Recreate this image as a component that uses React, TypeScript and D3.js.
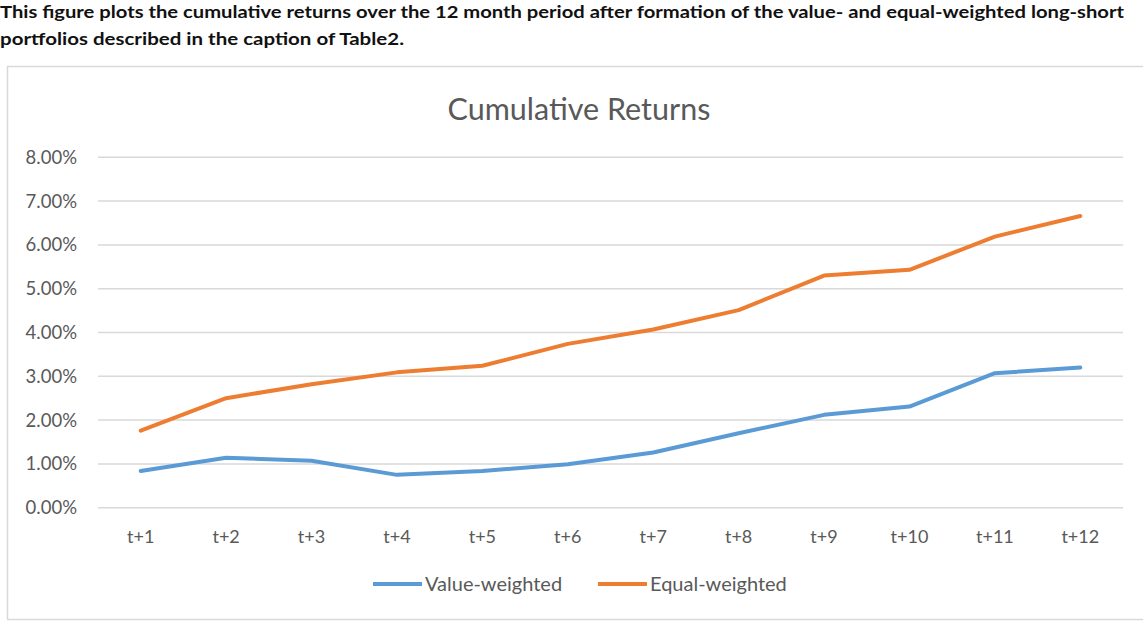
import React, { useEffect, useRef } from "react";
import * as d3 from "d3";

const caption = [
  "This figure plots the cumulative returns over the 12 month period after formation of the value- and equal-weighted long-short",
  "portfolios described in the caption of Table2.",
];
const chartTitle = "Cumulative Returns";
const categories = ["t+1", "t+2", "t+3", "t+4", "t+5", "t+6", "t+7", "t+8", "t+9", "t+10", "t+11", "t+12"];
const valueWeighted = [0.84, 1.14, 1.07, 0.75, 0.84, 0.99, 1.26, 1.7, 2.12, 2.31, 3.07, 3.2];
const equalWeighted = [1.76, 2.5, 2.82, 3.09, 3.24, 3.74, 4.07, 4.51, 5.3, 5.43, 6.19, 6.66];
const yTicks = [0, 1, 2, 3, 4, 5, 6, 7, 8];
const seriesNames = ["Value-weighted", "Equal-weighted"];
const seriesColors = ["#5B9BD5", "#ED7D31"];

const App: React.FC = () => {
  const svgRef = useRef<SVGSVGElement>(null);

  useEffect(() => {
    if (!svgRef.current) return;
    const svg = d3.select(svgRef.current);
    svg.selectAll("*").remove();

    const font = "Lato, 'Open Sans', sans-serif";
    const textColor = "#595959";

    // caption above the chart box
    svg
      .selectAll("text.caption")
      .data(caption)
      .enter()
      .append("text")
      .attr("class", "caption")
      .attr("x", 0)
      .attr("y", (_, i) => 18 + i * 27)
      .attr("textLength", (_, i) => (i === 0 ? 1124 : 404))
      .attr("lengthAdjust", "spacingAndGlyphs")
      .style("font-family", font)
      .style("font-weight", "bold")
      .style("font-size", "17px")
      .style("fill", "#111")
      .text((d) => d);

    // chart box
    svg
      .append("rect")
      .attr("x", 7.5)
      .attr("y", 66.5)
      .attr("width", 1160)
      .attr("height", 553)
      .attr("fill", "#fff")
      .attr("stroke", "#d9d9d9")
      .attr("stroke-width", 1.5);

    svg
      .append("text")
      .attr("x", 579)
      .attr("y", 120)
      .attr("text-anchor", "middle")
      .style("font-family", font)
      .style("font-size", "30.5px")
      .style("fill", textColor)
      .text(chartTitle);

    const x = d3.scaleBand().domain(categories).range([98, 1123]);
    const y = d3.scaleLinear().domain([0, 8]).range([507.7, 157.3]);

    // gridlines
    svg
      .append("g")
      .selectAll("line")
      .data(yTicks)
      .enter()
      .append("line")
      .attr("x1", 98)
      .attr("x2", 1123)
      .attr("y1", (d) => y(d))
      .attr("y2", (d) => y(d))
      .attr("stroke", "#d9d9d9")
      .attr("stroke-width", 1.5);

    // y labels
    svg
      .append("g")
      .selectAll("text")
      .data(yTicks)
      .enter()
      .append("text")
      .attr("x", 77)
      .attr("y", (d) => y(d))
      .attr("dy", "0.35em")
      .attr("text-anchor", "end")
      .style("font-family", font)
      .style("font-size", "18.5px")
      .style("fill", textColor)
      .text((d) => d3.format(".2f")(d) + "%");

    // x labels
    svg
      .append("g")
      .selectAll("text")
      .data(categories)
      .enter()
      .append("text")
      .attr("x", (d) => (x(d) || 0) + x.bandwidth() / 2)
      .attr("y", 537)
      .attr("dy", "0.35em")
      .attr("text-anchor", "middle")
      .style("font-family", font)
      .style("font-size", "18px")
      .style("fill", textColor)
      .text((d) => d);

    // lines
    const line = d3
      .line<number>()
      .x((_, i) => (x(categories[i]) || 0) + x.bandwidth() / 2)
      .y((d) => y(d));

    [valueWeighted, equalWeighted].forEach((values, i) => {
      svg
        .append("path")
        .datum(values)
        .attr("d", line)
        .attr("fill", "none")
        .attr("stroke", seriesColors[i])
        .attr("stroke-width", 4)
        .attr("stroke-linejoin", "round")
        .attr("stroke-linecap", "round");
    });

    // legend
    const legendX = [373, 598];
    const legend = svg
      .append("g")
      .selectAll("g")
      .data(seriesNames)
      .enter()
      .append("g")
      .attr("transform", (_, i) => `translate(${legendX[i]},584)`);

    legend
      .append("line")
      .attr("x1", 0)
      .attr("x2", 49)
      .attr("stroke", (_, i) => seriesColors[i])
      .attr("stroke-width", 4);

    legend
      .append("text")
      .attr("x", 52)
      .attr("dy", "0.35em")
      .style("font-family", font)
      .style("font-size", "20px")
      .style("fill", textColor)
      .text((d) => d);
  }, []);

  return (
    <svg
      ref={svgRef}
      width={1143}
      height={621}
      style={{ position: "absolute", left: 0, top: 0, background: "#fff" }}
    ></svg>
  );
};

export default App;
